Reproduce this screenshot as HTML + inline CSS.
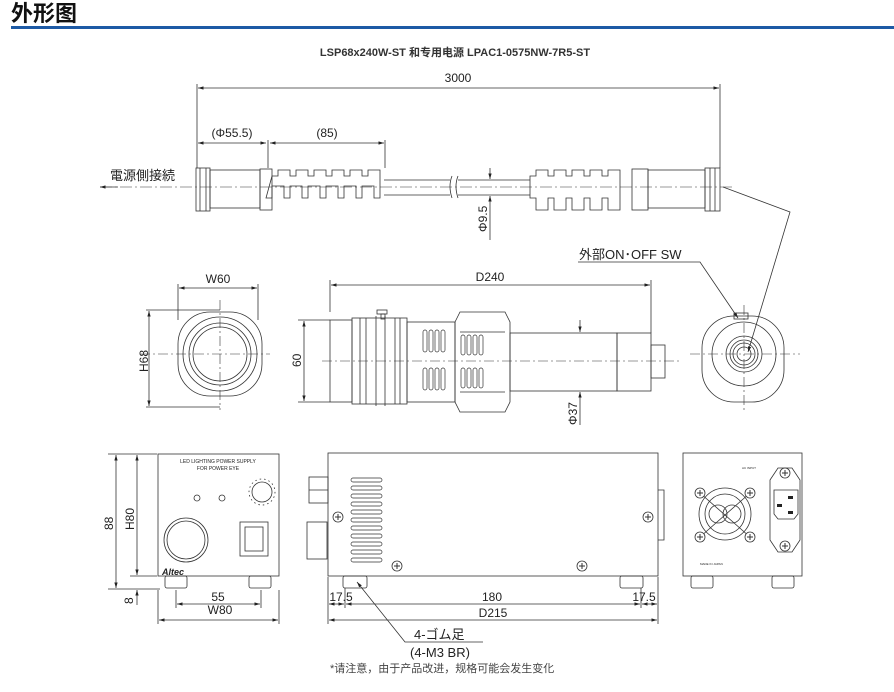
<!DOCTYPE html>
<html><head><meta charset="utf-8"><style>
html,body{margin:0;padding:0;background:#fff;}
svg{display:block;font-family:"Liberation Sans","Noto Sans CJK JP",sans-serif;}
</style></head><body>
<svg width="894" height="692" viewBox="0 0 894 692" xmlns="http://www.w3.org/2000/svg">
<defs>
<marker id="a" viewBox="0 0 10 10" refX="10" refY="5" markerWidth="7" markerHeight="7" orient="auto-start-reverse"><path d="M0,2 L10,5 L0,8 z" fill="#222"/></marker>
<g id="sc"><circle r="5" fill="#fff" stroke="#333" stroke-width="0.8"/><path d="M-3,0 H3 M0,-3 V3" stroke="#333" stroke-width="1"/></g>
</defs>
<text x="11" y="21" font-size="22" font-weight="bold" fill="#111" font-family="Noto Sans CJK SC,sans-serif">外形图</text>
<rect x="11" y="26" width="883" height="3" fill="#1d5aa5"/>
<text x="455" y="56" font-size="11" font-weight="bold" fill="#333" text-anchor="middle">LSP68x240W-ST 和专用电源 LPAC1-0575NW-7R5-ST</text>

<g fill="#222" font-size="12">
<text x="458" y="82" text-anchor="middle">3000</text>
<text x="232" y="137" text-anchor="middle">(Φ55.5)</text>
<text x="327" y="137" text-anchor="middle">(85)</text>
<text x="110" y="180" font-size="13">電源側接続</text>
<text x="579" y="259" font-size="13">外部ON･OFF  SW</text>
<text x="218" y="283" text-anchor="middle">W60</text>
<text x="490" y="281" text-anchor="middle">D240</text>
<text x="220" y="614" text-anchor="middle">W80</text>
<text x="218" y="601" text-anchor="middle">55</text>
<text x="341" y="601" text-anchor="middle">17.5</text>
<text x="492" y="601" text-anchor="middle">180</text>
<text x="644" y="601" text-anchor="middle">17.5</text>
<text x="493" y="617" text-anchor="middle">D215</text>
<text x="414" y="639" font-size="13">4-ゴム足</text>
<text x="410" y="657" font-size="13">(4-M3  BR)</text>
<text x="330" y="672" font-size="11" fill="#444">*请注意，由于产品改进，规格可能会发生变化</text>
<text transform="translate(487,232) rotate(-90)" font-size="12">Φ9.5</text>
<text transform="translate(148,372) rotate(-90)" font-size="12">H68</text>
<text transform="translate(301,367) rotate(-90)" font-size="12">60</text>
<text transform="translate(577,425) rotate(-90)" font-size="12">Φ37</text>
<text transform="translate(113,530) rotate(-90)" font-size="12">88</text>
<text transform="translate(134,530) rotate(-90)" font-size="12">H80</text>
<text transform="translate(133,604) rotate(-90)" font-size="12">8</text>
<text x="218" y="463" font-size="5" text-anchor="middle">LED LIGHTING POWER SUPPLY</text>
<text x="218" y="470" font-size="5" text-anchor="middle">FOR POWER EYE</text>
<text x="162" y="575" font-size="9" font-weight="bold" font-style="italic">Altec</text>
<text x="742" y="469" font-size="3">AC INPUT</text>
<text x="700" y="565" font-size="3">MADE IN JAPAN</text>
</g>

<g stroke="#333" fill="none" stroke-width="0.8">
<line x1="197" y1="84" x2="197" y2="168"/><line x1="720" y1="84" x2="720" y2="168"/>
<line x1="198" y1="88" x2="719" y2="88" marker-start="url(#a)" marker-end="url(#a)"/>
<line x1="268" y1="140" x2="268" y2="168"/><line x1="385" y1="140" x2="385" y2="168"/>
<line x1="198" y1="143" x2="266" y2="143" marker-start="url(#a)" marker-end="url(#a)"/>
<line x1="270" y1="143" x2="384" y2="143" marker-start="url(#a)" marker-end="url(#a)"/>
<line x1="100" y1="187" x2="735" y2="187" stroke-dasharray="12,3,2,3" stroke-width="0.6"/>
<line x1="100" y1="187" x2="118" y2="187" marker-start="url(#a)"/>
<rect x="196" y="168" width="14" height="43"/><line x1="200" y1="168" x2="200" y2="211"/><line x1="206" y1="168" x2="206" y2="211"/>
<rect x="210" y="170" width="50" height="38"/>
<rect x="260" y="169" width="12" height="41"/>
<path d="M272,176 h6 v-6 h12 v6 h6 v-6 h12 v6 h6 v-6 h12 v6 h6 v-6 h12 v6 h6 v-6 h12 v6 h6 v-6 h12 v28 h-6 v-12 h-12 v12 h-6 v-12 h-12 v12 h-6 v-12 h-12 v12 h-6 v-12 h-12 v12 h-6 v-12 h-12 v12 h-6 v-12 h-12 v12 h-6 z"/>
<line x1="384" y1="180" x2="450" y2="180"/><line x1="384" y1="195" x2="450" y2="195"/>
<path d="M452,176 q-4,10 0,22 M458,176 q-4,10 0,22"/>
<line x1="458" y1="180" x2="530" y2="180"/><line x1="458" y1="195" x2="530" y2="195"/>
<path d="M530,176 h6 v-6 h12 v6 h6 v-6 h12 v6 h6 v-6 h12 v6 h6 v-6 h12 v6 h6 v-6 h12 v40 h-12 v-12 h-6 v12 h-12 v-12 h-6 v12 h-12 v-12 h-6 v12 h-12 v-12 h-6 v12 h-12 v-12 h-6 z"/>
<rect x="632" y="169" width="16" height="41"/>
<rect x="648" y="170" width="57" height="38"/>
<rect x="705" y="168" width="15" height="43"/><line x1="710" y1="168" x2="710" y2="211"/><line x1="715" y1="168" x2="715" y2="211"/>
<line x1="490" y1="168" x2="490" y2="179" marker-end="url(#a)"/><line x1="490" y1="240" x2="490" y2="196" marker-end="url(#a)"/>
<polyline points="723,187 790,212 748,352" marker-end="url(#a)"/>
<polyline points="578,262 700,262 738,318" marker-end="url(#a)"/>

<rect x="178" y="312" width="84" height="84" rx="32"/>
<circle cx="220" cy="354" r="37"/><circle cx="220" cy="354" r="31"/><circle cx="220" cy="354" r="27"/>
<line x1="140" y1="354" x2="270" y2="354" stroke-dasharray="10,3,2,3" stroke-width="0.6"/>
<line x1="220" y1="300" x2="220" y2="410" stroke-dasharray="10,3,2,3" stroke-width="0.6"/>
<line x1="178" y1="284" x2="178" y2="320"/><line x1="258" y1="284" x2="258" y2="320"/>
<line x1="179" y1="288" x2="257" y2="288" marker-start="url(#a)" marker-end="url(#a)"/>
<line x1="146" y1="310" x2="220" y2="310"/><line x1="146" y1="407" x2="220" y2="407"/>
<line x1="149" y1="311" x2="149" y2="406" marker-start="url(#a)" marker-end="url(#a)"/>
<line x1="330" y1="280" x2="330" y2="312"/><line x1="651" y1="280" x2="651" y2="333"/>
<line x1="331" y1="285" x2="650" y2="285" marker-start="url(#a)" marker-end="url(#a)"/>
<line x1="298" y1="320" x2="330" y2="320"/><line x1="298" y1="402" x2="330" y2="402"/>
<line x1="304" y1="321" x2="304" y2="401" marker-start="url(#a)" marker-end="url(#a)"/>
<rect x="330" y="320" width="22" height="82"/>
<rect x="352" y="318" width="55" height="86"/>
<line x1="360" y1="318" x2="360" y2="404"/><line x1="366" y1="318" x2="366" y2="404"/><line x1="376" y1="316" x2="376" y2="406"/><line x1="385" y1="316" x2="385" y2="406"/><line x1="395" y1="318" x2="395" y2="404"/><line x1="400" y1="318" x2="400" y2="404"/>
<rect x="381" y="314" width="4" height="5"/><rect x="377" y="310" width="10" height="4"/>
<rect x="407" y="322" width="48" height="80"/>
<path d="M455,322 l5,-10 h45 l5,10 v80 l-5,10 h-45 l-5,-10 z"/>
<line x1="460" y1="332" x2="505" y2="332"/><line x1="460" y1="392" x2="505" y2="392"/>
<rect x="510" y="333" width="107" height="58"/>
<rect x="617" y="333" width="34" height="58"/>
<rect x="651" y="345" width="14" height="33"/>
<line x1="322" y1="361" x2="680" y2="361" stroke-dasharray="10,3,2,3" stroke-width="0.6"/>
<line x1="580" y1="320" x2="580" y2="332" marker-end="url(#a)"/><line x1="580" y1="425" x2="580" y2="392" marker-end="url(#a)"/>
<g stroke-width="0.7">
<rect x="423" y="330" width="4" height="22" rx="2"/><rect x="429" y="330" width="4" height="22" rx="2"/><rect x="435" y="330" width="4" height="22" rx="2"/><rect x="441" y="330" width="4" height="22" rx="2"/>
<rect x="423" y="368" width="4" height="22" rx="2"/><rect x="429" y="368" width="4" height="22" rx="2"/><rect x="435" y="368" width="4" height="22" rx="2"/><rect x="441" y="368" width="4" height="22" rx="2"/>
<rect x="461" y="335" width="4" height="20" rx="2"/><rect x="467" y="335" width="4" height="20" rx="2"/><rect x="473" y="335" width="4" height="20" rx="2"/><rect x="479" y="335" width="4" height="20" rx="2"/>
<rect x="461" y="368" width="4" height="20" rx="2"/><rect x="467" y="368" width="4" height="20" rx="2"/><rect x="473" y="368" width="4" height="20" rx="2"/><rect x="479" y="368" width="4" height="20" rx="2"/>
</g>
<rect x="702" y="316" width="82" height="86" rx="32"/>
<circle cx="744" cy="354" r="32"/><circle cx="744" cy="354" r="18"/><circle cx="744" cy="354" r="14"/><circle cx="744" cy="354" r="11"/><circle cx="744" cy="354" r="7"/>
<rect x="734" y="313" width="14" height="6"/>
<line x1="690" y1="354" x2="800" y2="354" stroke-dasharray="10,3,2,3" stroke-width="0.6"/>
<line x1="744" y1="305" x2="744" y2="410" stroke-dasharray="10,3,2,3" stroke-width="0.6"/>

<!-- front -->
<rect x="158" y="454" width="121" height="122"/>
<rect x="165" y="576" width="22" height="12" rx="2"/><rect x="249" y="576" width="22" height="12" rx="2"/>
<circle cx="186" cy="540" r="22"/><circle cx="186" cy="540" r="19"/>
<circle cx="197" cy="498" r="3"/><circle cx="222" cy="498" r="3"/>
<circle cx="262" cy="492" r="10"/><circle cx="262" cy="492" r="13" stroke-dasharray="1.5,3"/>
<rect x="240" y="522" width="28" height="34"/><rect x="245" y="527" width="18" height="24"/>
<line x1="108" y1="454" x2="157" y2="454"/><line x1="108" y1="589" x2="160" y2="589"/><line x1="130" y1="576" x2="157" y2="576"/>
<line x1="116" y1="455" x2="116" y2="588" marker-start="url(#a)" marker-end="url(#a)"/>
<line x1="137" y1="455" x2="137" y2="575" marker-start="url(#a)" marker-end="url(#a)"/>
<line x1="137" y1="605" x2="137" y2="590" marker-end="url(#a)"/>
<line x1="176" y1="590" x2="176" y2="608"/><line x1="261" y1="590" x2="261" y2="608"/>
<line x1="177" y1="604" x2="260" y2="604" marker-start="url(#a)" marker-end="url(#a)"/>
<line x1="158" y1="590" x2="158" y2="624"/><line x1="279" y1="590" x2="279" y2="624"/>
<line x1="159" y1="620" x2="278" y2="620" marker-start="url(#a)" marker-end="url(#a)"/>
<!-- side -->
<rect x="328" y="453" width="330" height="123"/>
<rect x="343" y="576" width="24" height="12" rx="2"/><rect x="620" y="576" width="23" height="12" rx="2"/>
<rect x="309" y="477" width="19" height="26"/><line x1="309" y1="490" x2="328" y2="490"/>
<rect x="307" y="522" width="20" height="37"/>
<path d="M658,490 h6 v50 h-6"/>
<g stroke-width="0.7">
<rect x="351" y="478" width="31" height="4" rx="2"/><rect x="351" y="486" width="31" height="4" rx="2"/><rect x="351" y="494" width="31" height="4" rx="2"/><rect x="351" y="502" width="31" height="4" rx="2"/><rect x="351" y="510" width="31" height="4" rx="2"/><rect x="351" y="518" width="31" height="4" rx="2"/><rect x="351" y="526" width="31" height="4" rx="2"/><rect x="351" y="534" width="31" height="4" rx="2"/><rect x="351" y="542" width="31" height="4" rx="2"/><rect x="351" y="550" width="31" height="4" rx="2"/><rect x="351" y="558" width="31" height="4" rx="2"/>
</g>
<line x1="328" y1="577" x2="328" y2="624"/><line x1="658" y1="577" x2="658" y2="624"/>
<line x1="345" y1="588" x2="345" y2="608"/><line x1="641" y1="588" x2="641" y2="608"/>
<line x1="329" y1="604" x2="344" y2="604" marker-start="url(#a)" marker-end="url(#a)"/>
<line x1="346" y1="604" x2="640" y2="604" marker-start="url(#a)" marker-end="url(#a)"/>
<line x1="642" y1="604" x2="657" y2="604" marker-start="url(#a)" marker-end="url(#a)"/>
<line x1="329" y1="620" x2="657" y2="620" marker-start="url(#a)" marker-end="url(#a)"/>
<polyline points="483,642 405,642 357,582" marker-end="url(#a)"/>
<!-- back -->
<rect x="683" y="453" width="119" height="123"/>
<rect x="691" y="576" width="22" height="12" rx="2"/><rect x="772" y="576" width="22" height="12" rx="2"/>
<circle cx="725" cy="514" r="26"/><circle cx="725" cy="514" r="20"/><circle cx="718" cy="514" r="9"/><circle cx="732" cy="514" r="9"/>
<line x1="700" y1="493" x2="750" y2="537"/><line x1="750" y1="493" x2="700" y2="537"/>
<path d="M770,480 l8,-12 h14 l8,12 v60 l-8,12 h-14 l-8,-12 z"/>
<path d="M774,490 h24 v24 l-4,5 h-16 l-4,-5 z"/>
<g fill="#222" stroke="none"><rect x="788" y="496" width="5" height="3"/><rect x="777" y="504" width="5" height="3"/><rect x="788" y="511" width="5" height="3"/></g>
</g>
<use href="#sc" x="338" y="517"/><use href="#sc" x="648" y="517"/><use href="#sc" x="397" y="566"/><use href="#sc" x="582" y="566"/>
<use href="#sc" x="700" y="493"/><use href="#sc" x="750" y="493"/><use href="#sc" x="700" y="537"/><use href="#sc" x="750" y="537"/>
<use href="#sc" x="785" y="473"/><use href="#sc" x="785" y="546"/>
</svg>
</body></html>
